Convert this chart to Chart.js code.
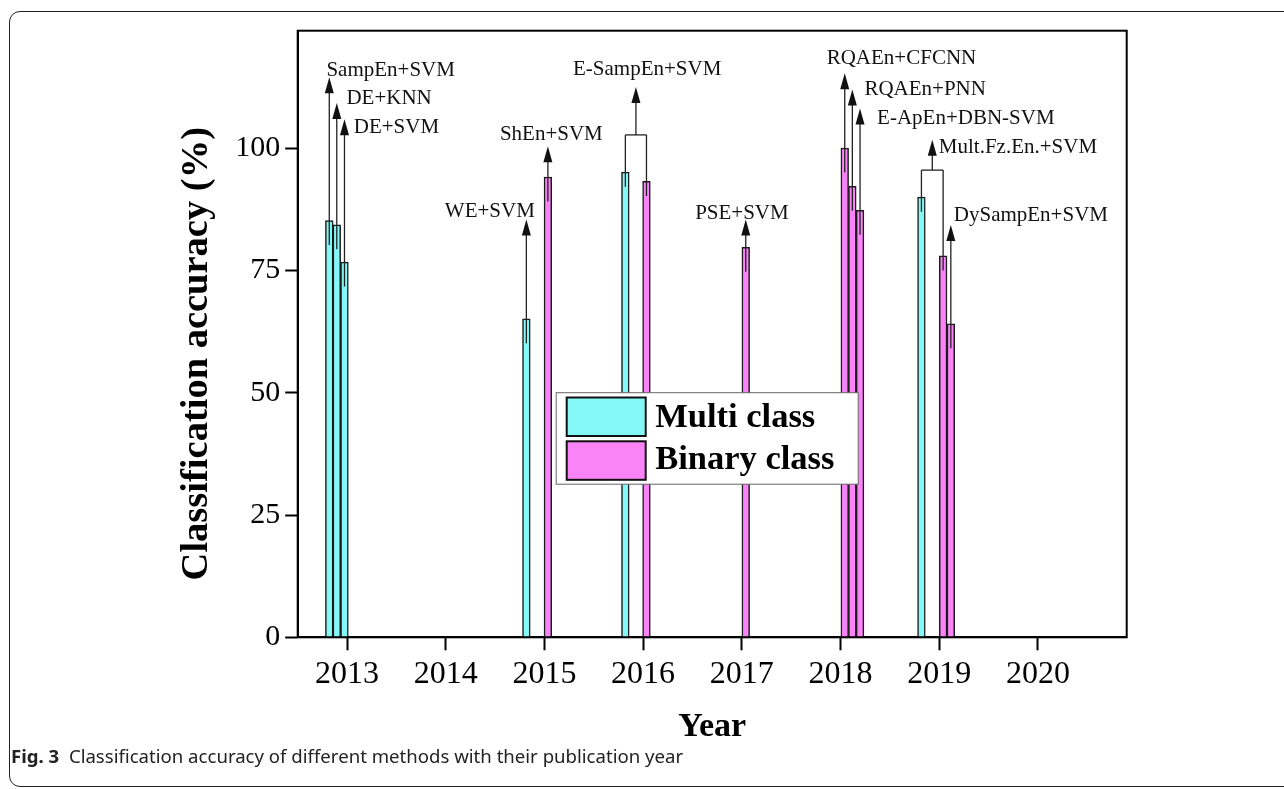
<!DOCTYPE html>
<html><head><meta charset="utf-8">
<script src="https://cdn.jsdelivr.net/npm/chart.js@4"></script>
<style>
html,body{margin:0;padding:0;background:#fff;width:1284px;height:789px;overflow:hidden;}
#frame{position:absolute;left:9px;top:11px;width:1320px;height:776px;border:1.5px solid #222;border-radius:11px;box-sizing:border-box;}
#wrap{position:absolute;left:0;top:0;width:1284px;height:789px;}
#cap{position:absolute;left:11px;top:743px;font-family:"Noto Sans";font-size:18.6px;color:#222;white-space:nowrap;}
#cap b{font-weight:700;}
</style></head>
<body>
<div id="frame"></div>
<div id="wrap"><canvas id="c" width="1284" height="789" style="width:1284px;height:789px"></canvas></div>
<div id="cap"><b>Fig. 3</b>&nbsp; Classification accuracy of different methods with their publication year</div>
<script>
// ---- data ----
const multiYears  = [2012.82, 2012.896, 2012.974, 2014.817, 2015.82, 2018.82];
const multiAcc    = [85.2, 84.3, 76.7, 65.1, 95.1, 90.0];
const binaryYears = [2015.035, 2016.034, 2017.04, 2018.043, 2018.12, 2018.198, 2019.04, 2019.118];
const binaryAcc   = [94.1, 93.2, 79.7, 100, 92.2, 87.3, 78.0, 64.1];
const yearTicks   = [2013, 2014, 2015, 2016, 2017, 2018, 2019, 2020];
const accTicks    = [0, 25, 50, 75, 100];
const seriesNames = ['Multi class', 'Binary class'];
const seriesColors = ['#84f8f6', '#f984f7'];
const yTitle = 'Classification accuracy (%)';

// annotation labels: method name, bars it points to, arrow tip value, text anchor (year, value)
const methodNames = ['SampEn+SVM','DE+KNN','DE+SVM','WE+SVM','ShEn+SVM','E-SampEn+SVM','PSE+SVM',
                     'RQAEn+CFCNN','RQAEn+PNN','E-ApEn+DBN-SVM','Mult.Fz.En.+SVM','DySampEn+SVM'];
const methodBars  = [[[0,0]],[[0,1]],[[0,2]],[[0,3]],[[1,0]],[[0,4],[1,1]],[[1,2]],
                     [[1,3]],[[1,4]],[[1,5]],[[0,5],[1,6]],[[1,7]]];
const arrowTips   = [114.5, 109.2, 105.9, 85.4, 100.4, 112.5, 85.4, 115.3, 112.0, 108.1, 101.7, 84.3];
const bracketAt   = [null, null, null, null, null, 102.7, null, null, null, null, 95.5, null];
const textYears   = [2012.791, 2012.994, 2013.068, 2013.991, 2014.549, 2015.29, 2016.527, 2017.86, 2018.242, 2018.371, 2018.996, 2019.148];
const textAcc     = [114.7, 109.0, 103.0, 86.0, 101.6, 114.9, 85.6, 117.2, 110.9, 104.9, 99.1, 85.0];

const SERIF = '"Liberation Serif", "Times New Roman", serif';

const annotatePlugin = {
  id: 'annotate',
  afterDatasetsDraw(chart) {
    const {ctx, scales: {x, y}} = chart;
    const yrs = [multiYears, binaryYears], accs = [multiAcc, binaryAcc];
    ctx.save();
    ctx.strokeStyle = '#222';
    ctx.fillStyle = '#111';
    ctx.lineWidth = 1.3;
    const head = (px, py) => {
      ctx.beginPath();
      ctx.moveTo(px, py);
      ctx.lineTo(px - 4.5, py + 16);
      ctx.lineTo(px + 4.5, py + 16);
      ctx.closePath();
      ctx.fill();
    };
    methodNames.forEach((name, i) => {
      const bars = methodBars[i];
      const tipY = y.getPixelForValue(arrowTips[i]);
      if (bracketAt[i] === null) {
        const [s, k] = bars[0];
        const px = x.getPixelForValue(yrs[s][k]);
        const py = y.getPixelForValue(accs[s][k] - 5);
        ctx.beginPath(); ctx.moveTo(px, py); ctx.lineTo(px, tipY + 8); ctx.stroke();
        head(px, tipY);
      } else {
        const by = y.getPixelForValue(bracketAt[i]);
        const xs = bars.map(([s, k]) => x.getPixelForValue(yrs[s][k]));
        bars.forEach(([s, k], j) => {
          const py = y.getPixelForValue(accs[s][k] - 3);
          ctx.beginPath(); ctx.moveTo(xs[j], py); ctx.lineTo(xs[j], by); ctx.stroke();
        });
        ctx.beginPath(); ctx.moveTo(xs[0], by); ctx.lineTo(xs[xs.length - 1], by); ctx.stroke();
        const mx = (xs[0] + xs[xs.length - 1]) / 2;
        ctx.beginPath(); ctx.moveTo(mx, by); ctx.lineTo(mx, tipY + 8); ctx.stroke();
        head(mx, tipY);
      }
      ctx.fillStyle = '#111';
      ctx.font = '21px ' + SERIF;
      ctx.textAlign = 'left';
      ctx.textBaseline = 'alphabetic';
      ctx.fillText(name, x.getPixelForValue(textYears[i]), y.getPixelForValue(textAcc[i]));
    });
    ctx.restore();
  },
  afterDraw(chart) {
    const {ctx, chartArea: ca} = chart;
    ctx.save();
    // full frame around plot
    ctx.strokeStyle = '#000';
    ctx.lineWidth = 2;
    ctx.strokeRect(ca.left, ca.top, ca.right - ca.left, ca.bottom - ca.top);
    // y-axis title (rotated), centred slightly below the plot centre as in the reference
    ctx.fillStyle = '#000';
    ctx.font = 'bold 38.5px ' + SERIF;
    ctx.textAlign = 'center';
    ctx.textBaseline = 'middle';
    ctx.translate(ca.left - 100.7, ca.top + 323);
    ctx.rotate(-Math.PI / 2);
    ctx.fillText(yTitle, 0, 0);
    ctx.setTransform(1, 0, 0, 1, 0, 0);
    // legend
    const lx = ca.left + 258.5, ly = ca.top + 362, lw = 302, lh = 91.5;
    ctx.fillStyle = '#fff';
    ctx.fillRect(lx, ly, lw, lh);
    ctx.strokeStyle = '#666';
    ctx.lineWidth = 1;
    ctx.strokeRect(lx, ly, lw, lh);
    seriesNames.forEach((nm, i) => {
      const sy = ly + 4.8 + i * 43.8;
      ctx.fillStyle = seriesColors[i];
      ctx.fillRect(lx + 10.5, sy, 79, 38.5);
      ctx.strokeStyle = '#111';
      ctx.lineWidth = 2;
      ctx.strokeRect(lx + 10.5, sy, 79, 38.5);
      ctx.fillStyle = '#000';
      ctx.font = 'bold 34.5px ' + SERIF;
      ctx.textAlign = 'left';
      ctx.textBaseline = 'alphabetic';
      ctx.fillText(nm, lx + 99, ly + 34 + i * 42.3);
    });
    ctx.restore();
  }
};

new Chart(document.getElementById('c'), {
  type: 'bar',
  data: {
    datasets: [
      {label: seriesNames[0], data: multiYears.map((v, i) => ({x: v, y: multiAcc[i]})),
       backgroundColor: seriesColors[0], borderColor: '#1a1a1a', borderWidth: 1.5, barThickness: 7.7, grouped: false},
      {label: seriesNames[1], data: binaryYears.map((v, i) => ({x: v, y: binaryAcc[i]})),
       backgroundColor: seriesColors[1], borderColor: '#1a1a1a', borderWidth: 1.5, barThickness: 7.7, grouped: false}
    ]
  },
  options: {
    responsive: false,
    animation: false,
    layout: {padding: {left: 150, top: 30.7, right: 157.3, bottom: 31.7}},
    plugins: {legend: {display: false}, tooltip: {enabled: false}},
    scales: {
      x: {
        type: 'linear', min: 2012.5, max: 2020.9, offset: false,
        grid: {offset: false, drawOnChartArea: false, drawTicks: true, tickLength: 13, tickColor: '#000', tickWidth: 2},
        border: {display: true, color: '#000', width: 2},
        ticks: {font: {family: SERIF, size: 32}, color: '#000', padding: 5, maxRotation: 0, autoSkip: false,
                callback: v => String(v)},
        afterBuildTicks: s => { s.ticks = yearTicks.map(v => ({value: v})); },
        afterFit: s => { s.height = 120; },
        title: {display: true, text: 'Year', color: '#000',
                font: {family: SERIF, size: 34, weight: 'bold'}, padding: {top: 0, bottom: 9.9}}
      },
      y: {
        min: 0, max: 124,
        grid: {offset: false, drawOnChartArea: false, drawTicks: true, tickLength: 12.5, tickColor: '#000', tickWidth: 2},
        border: {display: true, color: '#000', width: 2},
        ticks: {font: {family: SERIF, size: 30}, color: '#000', padding: 5, callback: v => String(v)},
        afterBuildTicks: s => { s.ticks = accTicks.map(v => ({value: v})); },
        afterFit: s => { s.width = 147.7; }
      }
    }
  },
  plugins: [annotatePlugin]
});
</script>
</body></html>
